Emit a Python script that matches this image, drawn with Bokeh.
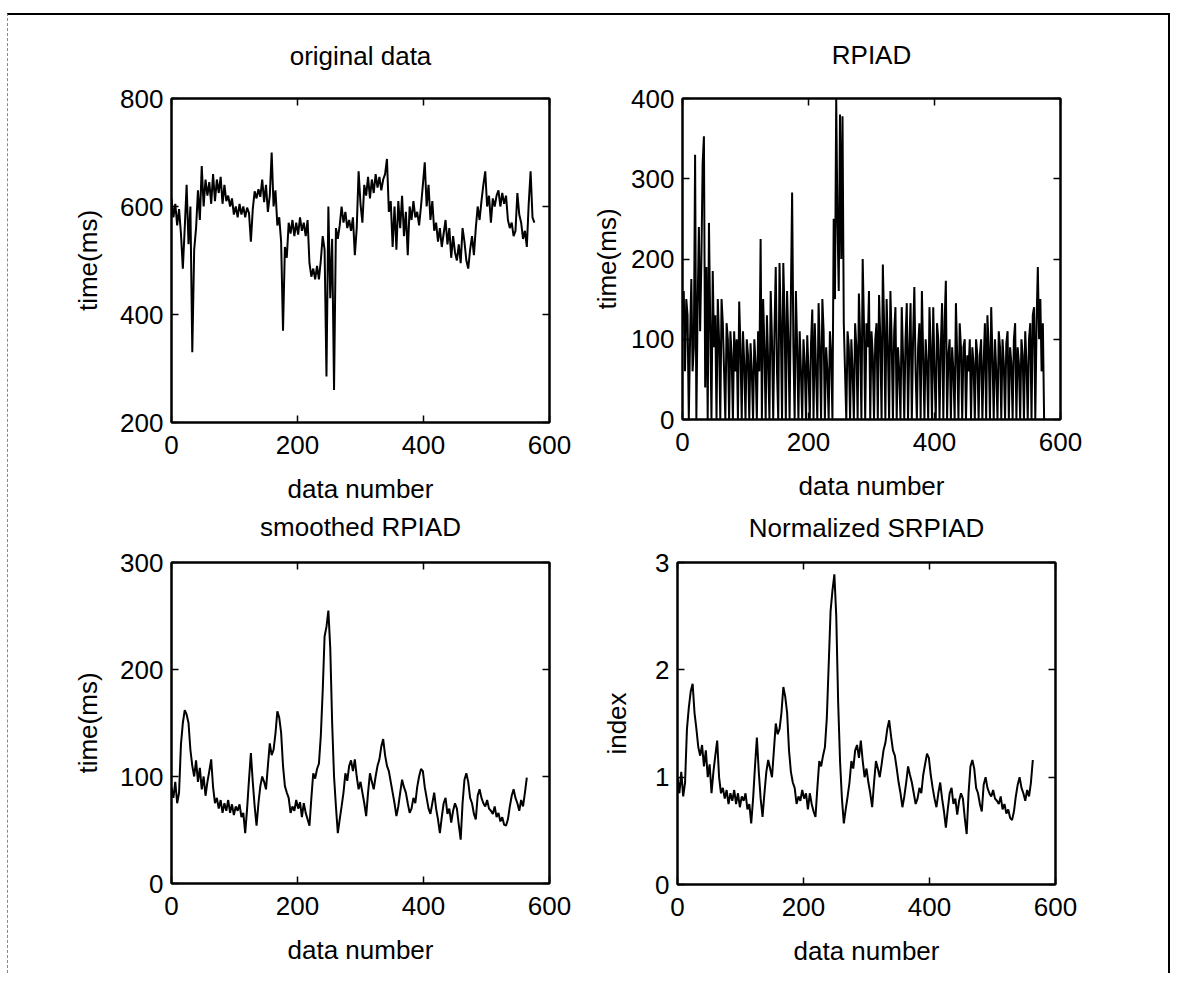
from bokeh.plotting import figure
from bokeh.layouts import column, row
from bokeh.models import Range1d, FixedTicker, LinearAxis
from bokeh.embed import file_html
from bokeh.resources import INLINE

FONT = "Liberation Sans"

# ---------------- data ----------------
# sample spacing (in "data number") of the values
original_step = 3
rpiad_step = 2
smoothed_step = 3
normalized_step = 3

original_data = [
    615, 580, 605, 565, 595, 550, 485, 560, 640, 530,
    600, 330, 520, 560, 630, 575, 675, 600, 650, 620,
    645, 605, 660, 610, 650, 625, 655, 605, 640, 610,
    620, 600, 615, 585, 600, 580, 605, 585, 600, 580,
    598, 588, 535, 595, 628, 615, 632, 618, 650, 608,
    640, 590, 620, 700, 600, 630, 565, 580, 535, 370,
    525, 505, 570, 550, 575, 545, 570, 548, 580, 555,
    570, 545, 575, 495, 470, 485, 465, 490, 465, 500,
    545, 520, 285, 600, 430, 540, 260, 560, 540, 565,
    600, 570, 590, 560, 575, 555, 580, 510, 560, 665,
    605, 570, 640, 620, 655, 615, 650, 625, 660, 635,
    655, 630, 650, 660, 688, 590, 610, 525, 600, 520,
    610, 560, 620, 545, 590, 510, 600, 575, 610, 580,
    590, 565, 600, 640, 682, 600, 640, 575, 610, 555,
    570, 535, 560, 525, 550, 575, 530, 560, 505, 545,
    515, 500, 530, 495, 560, 535, 500, 485, 520, 545,
    510, 560, 600, 575, 610, 640, 665, 600, 620, 570,
    615, 600, 620, 630, 600, 625, 605, 620, 575, 560,
    570, 545, 555, 625, 585, 570, 540, 555, 525, 605, 665, 580, 570,
]

rpiad = [
    120, 160, 60, 150, 130, 0, 100, 175, 60, 90, 330, 0, 140, 240, 110, 200, 320, 353, 40, 190,
    0, 245, 120, 0, 185, 90, 130, 0, 150, 100, 0, 150, 120, 60, 0, 120, 100, 0, 110, 80,
    0, 110, 60, 100, 0, 147, 90, 0, 110, 70, 0, 100, 80, 0, 95, 60, 0, 100, 70, 0,
    110, 60, 225, 0, 150, 90, 0, 130, 70, 0, 160, 100, 0, 110, 190, 60, 0, 195, 120, 0,
    195, 130, 0, 160, 100, 0, 150, 283, 90, 0, 160, 90, 0, 110, 60, 0, 100, 70, 0, 105,
    60, 0, 95, 137, 0, 120, 60, 0, 145, 90, 0, 150, 110, 0, 90, 60, 0, 110, 80, 0,
    250, 150, 400, 245, 160, 380, 200, 378, 120, 60, 0, 110, 90, 0, 100, 60, 0, 120, 90, 0,
    157, 100, 0, 200, 120, 0, 120, 90, 160, 0, 110, 80, 0, 100, 120, 0, 155, 100, 0, 193,
    120, 0, 150, 90, 0, 160, 100, 0, 110, 140, 0, 90, 60, 0, 140, 80, 0, 100, 145, 0,
    90, 145, 0, 100, 165, 60, 0, 90, 120, 0, 160, 80, 0, 100, 70, 0, 140, 90, 0, 140,
    60, 0, 120, 100, 0, 90, 145, 0, 120, 173, 0, 80, 100, 0, 90, 60, 0, 145, 80, 0,
    120, 90, 0, 90, 100, 0, 80, 60, 100, 0, 90, 70, 0, 100, 80, 0, 80, 100, 0, 70,
    120, 0, 130, 90, 0, 140, 80, 0, 100, 60, 0, 110, 90, 0, 100, 70, 0, 95, 110, 0,
    90, 70, 0, 100, 120, 0, 90, 70, 0, 100, 80, 0, 110, 70, 0, 100, 120, 0, 130, 140,
    0, 120, 190, 100, 150, 60, 120, 0, 0,
]

smoothed_rpiad = [
    90, 80, 95, 75, 85, 130, 150, 162, 158, 150,
    125, 110, 100, 115, 95, 108, 88, 100, 82, 95,
    105, 116, 90, 75, 80, 70, 78, 66, 75, 68,
    78, 66, 74, 64, 72, 68, 74, 62, 66, 47,
    70, 97, 122, 95, 72, 54, 75, 91, 100, 95,
    88, 110, 131, 120, 125, 140, 161, 155, 141, 110,
    91, 85, 80, 66, 72, 68, 78, 70, 76, 62,
    75, 66, 60, 54, 80, 103, 98, 107, 112, 138,
    180, 231, 240, 255, 220, 150, 100, 72, 47, 60,
    72, 85, 103, 96, 110, 115, 105, 116, 100, 88,
    95, 85, 75, 63, 85, 103, 95, 88, 100, 110,
    116, 128, 135, 120, 110, 105, 95, 85, 75, 63,
    72, 85, 97, 90, 85, 75, 66, 70, 80, 75,
    90, 100, 107, 105, 90, 80, 70, 65, 75, 85,
    70, 60, 47, 62, 75, 80, 65, 70, 57, 68,
    75, 70, 55, 41, 75, 97, 103, 95, 80, 75,
    65, 60, 82, 88, 80, 75, 72, 78, 70, 68,
    65, 72, 62, 66, 58, 62, 55, 54, 60, 72,
    82, 88, 80, 75, 68, 78, 72, 85, 99,
]

normalized_srpiad = [
    1.0, 0.85, 1.05, 0.82, 0.95, 1.45, 1.65, 1.8, 1.87, 1.6,
    1.45, 1.28, 1.2, 1.3, 1.1, 1.25, 1.0, 1.12, 0.85, 1.05,
    1.2, 1.34, 1.0, 0.85, 0.9, 0.8, 0.88, 0.75, 0.85, 0.78,
    0.88, 0.75, 0.85, 0.72, 0.82, 0.78, 0.85, 0.7, 0.75, 0.57,
    0.8, 1.1, 1.37, 1.05, 0.8, 0.63, 0.85, 1.05, 1.16, 1.08,
    1.0, 1.25, 1.5, 1.4, 1.45, 1.6, 1.84, 1.75, 1.6, 1.25,
    1.05, 0.95, 0.9, 0.75, 0.82, 0.78, 0.88, 0.8, 0.85, 0.7,
    0.85, 0.75, 0.68, 0.63, 0.9, 1.15, 1.1, 1.2, 1.28, 1.55,
    2.05, 2.55, 2.74, 2.89, 2.5, 1.7, 1.15, 0.8, 0.57, 0.7,
    0.82, 0.95, 1.15, 1.08, 1.25, 1.3, 1.18, 1.34, 1.15, 1.0,
    1.08, 0.95, 0.85, 0.72, 0.95, 1.15, 1.08, 1.0, 1.12, 1.25,
    1.32, 1.45, 1.53, 1.38, 1.25, 1.2, 1.08, 0.95, 0.85, 0.72,
    0.82, 0.95, 1.1, 1.02, 0.95, 0.85, 0.75, 0.8, 0.9, 0.85,
    1.02, 1.12, 1.22, 1.18, 1.02, 0.9, 0.8, 0.72, 0.85, 0.95,
    0.8, 0.68, 0.53, 0.7, 0.85, 0.9, 0.75, 0.8, 0.65, 0.78,
    0.85, 0.8, 0.62, 0.47, 0.85, 1.1, 1.16, 1.08, 0.9, 0.85,
    0.75, 0.68, 0.93, 1.0, 0.9, 0.85, 0.82, 0.88, 0.8, 0.78,
    0.75, 0.82, 0.7, 0.75, 0.66, 0.7, 0.62, 0.6, 0.68, 0.82,
    0.93, 1.0, 0.9, 0.85, 0.78, 0.88, 0.82, 0.95, 1.16,
]

x_ticks = [0, 200, 400, 600]
titles = ["original data", "RPIAD", "smoothed RPIAD", "Normalized SRPIAD"]
x_label = "data number"
y_labels = ["time(ms)", "time(ms)", "time(ms)", "index"]
y_ticks = [[200, 400, 600, 800], [0, 100, 200, 300, 400], [0, 100, 200, 300], [0, 1, 2, 3]]


def style_axis(ax, ticks, tick_label_standoff=8, label_standoff=None, hidden=False):
    ax.ticker = FixedTicker(ticks=ticks)
    ax.axis_line_color = "black"
    ax.axis_line_width = 2
    ax.major_tick_in = 7
    ax.major_tick_out = 0
    ax.major_tick_line_color = "black"
    ax.major_tick_line_width = 1.5
    ax.minor_tick_in = 0
    ax.minor_tick_out = 0
    ax.major_label_text_font = FONT
    ax.major_label_text_color = "black"
    ax.axis_label_text_font = FONT
    ax.axis_label_text_font_size = "26px"
    ax.axis_label_text_font_style = "normal"
    ax.axis_label_text_color = "black"
    if hidden:
        # tick marks only (MATLAB box): labels not painted
        ax.major_label_text_font_size = "10px"
        ax.major_label_text_alpha = 0
        ax.major_label_standoff = 0
    else:
        ax.major_label_text_font_size = "26px"
        ax.major_label_standoff = tick_label_standoff
    if label_standoff is not None:
        ax.axis_label_standoff = label_standoff


def panel(title, ylab, values, step, yr, yt, fh, bl, br, bt, bb, title_standoff, ylab_standoff):
    xs = [i * step for i in range(len(values))]
    p = figure(frame_width=378, frame_height=fh,
               min_border_left=bl, min_border_right=br,
               min_border_top=bt, min_border_bottom=bb,
               x_range=Range1d(0, 600), y_range=Range1d(yr[0], yr[1]),
               output_backend="svg", toolbar_location=None)
    p.line(xs, values, line_color="black", line_width=2)
    p.outline_line_color = "black"
    p.outline_line_width = 2
    p.outline_line_alpha = 1
    p.xgrid.visible = False
    p.ygrid.visible = False
    p.background_fill_color = "white"
    p.border_fill_color = "white"
    p.xaxis.axis_label = x_label
    p.yaxis.axis_label = ylab
    style_axis(p.xaxis[0], x_ticks, 13, 17)
    style_axis(p.yaxis[0], yt, 8, ylab_standoff)
    ra = LinearAxis()
    style_axis(ra, yt, hidden=True)
    p.add_layout(ra, "right")
    ta = LinearAxis(axis_label=title)
    style_axis(ta, x_ticks, label_standoff=title_standoff, hidden=True)
    p.add_layout(ta, "above")
    return p


tl = panel(titles[0], y_labels[0], original_data, original_step, (200, 800), y_ticks[0],
           324, 163, 40, 82, 87, 28, 14)
tr = panel(titles[1], y_labels[1], rpiad, rpiad_step, (0, 400), y_ticks[1],
           321, 88, 108, 83, 89, 29, 6)
bl = panel(titles[2], y_labels[2], smoothed_rpiad, smoothed_step, (0, 300), y_ticks[2],
           321, 163, 40, 54, 90, 21, 14)
br = panel(titles[3], y_labels[3], normalized_srpiad, normalized_step, (0, 3), y_ticks[3],
           322, 88, 108, 53, 90, 20, 20)

layout = column(row(tl, tr), row(bl, br),
                margin=(13, 0, 0, 7),
                styles={"border-top": "2px solid black",
                        "border-right": "2px solid black",
                        "border-left": "1px dashed #888888",
                        "background-color": "white"})

open("out.html", "w").write(file_html(layout, INLINE))
